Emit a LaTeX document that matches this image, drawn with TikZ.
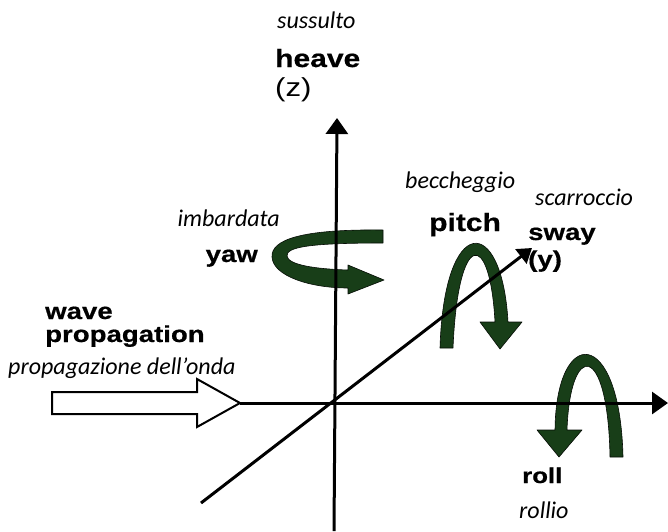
\documentclass[tikz,border=0pt]{standalone}
\usepackage{fontspec}
\usetikzlibrary{arrows.meta}
\newfontfamily\lblfont{Liberation Sans Bold}[FakeStretch=1.2,FakeBold=0.6]
\newfontfamily\lblreg{Liberation Sans}[FakeStretch=1.2]
\newfontfamily\itfont{Carlito Italic}
\definecolor{rotgreen}{RGB}{24,62,24}
\tikzset{
  lbl/.style={inner sep=0pt, anchor=base west, font=\lblfont\fontsize{23}{26}\selectfont},
  biglbl/.style={lbl, font=\lblfont\fontsize{25}{28}\selectfont},
  smalllbl/.style={lbl, font=\lblfont\fontsize{21.5}{24}\selectfont},
  lblr/.style={inner sep=0pt, anchor=base west, font=\lblreg\fontsize{26}{29}\selectfont},
  itlbl/.style={inner sep=0pt, anchor=base west, font=\itfont\fontsize{24}{27}\selectfont},
  axis/.style={line width=3pt, -{Triangle[length=16pt,width=22pt]}},
  rot/.style={fill=rotgreen, draw=black!80!rotgreen, line width=0.6pt, line join=round},
  wavearrow/.style={draw=black, line width=2pt, fill=white, line join=miter}
}
\begin{document}
\begin{tikzpicture}[x=1pt,y=-1pt]
\useasboundingbox (0,0) rectangle (668,531);

% axis end points
\coordinate (O)  at (335,403);
\coordinate (zt) at (337,118);
\coordinate (zb) at (334,531);
\coordinate (xs) at (240,403);
\coordinate (xt) at (668,403);
\coordinate (yb) at (201,503);
\coordinate (yt) at (532,248);

% yaw ribbon (around z)
\path[rot] (383,230) .. controls (300,229) and (271,240) .. (272,257)
  .. controls (273,276) and (310,288) .. (348,288)
  -- (348,294) -- (384,280) -- (348,265) -- (348,270)
  .. controls (316,269) and (288,265) .. (287,256)
  .. controls (286,247) and (310,243) .. (383,243) -- cycle;

% pitch ribbon (around y)
\path[rot] (440,348) .. controls (444,213) and (502,213) .. (508,322)
  -- (522,322) -- (500,349) -- (480,322) -- (495,322)
  .. controls (490,229) and (458,229) .. (453,348) -- cycle;

% roll ribbon (around x)
\path[rot] (610,457) -- (623,457) .. controls (620,325) and (556,325) .. (555,430)
  -- (537,430) -- (559,457) -- (582,430) -- (567,430)
  .. controls (570,341) and (608,341) .. (610,457) -- cycle;

% wave propagation arrow
\path[wavearrow] (52,392) -- (197,392) -- (197,379) -- (xs) -- (197,427)
  -- (197,414) -- (52,414) -- cycle;

% labels
\node[itlbl] (sus) at (277,28) {sussulto};
\node[biglbl] (heave) at (275,67) {heave};
\node[lblr]  (zlab) at (275,96) {(z)};
\node[itlbl, anchor=base east] (imb) at (280,226) {imbardata};
\node[lbl, anchor=base east] (yaw) at (258,262) {yaw};
\node[itlbl] (bec) at (405,188) {beccheggio};
\node[biglbl] (pitch) at (429,231) {pitch};
\node[itlbl] (sca) at (535,205) {scarroccio};
\node[lbl]   (sway) at (528,240) {sway};
\node[lbl]   (ylab) at (528,267) {(y)};
\node[lbl]   (wave) at (45,319) {wave};
\node[lbl]   (prop) at (45,342) {propagation};
\node[itlbl] (propit) at (8,374) {propagazione dell’onda};
\node[smalllbl] (roll) at (522,483) {roll};
\node[itlbl] (rollio) at (519,518) {rollio};

% axes
\draw[axis] (zb) -- (zt);
\draw[axis] (xs) -- (xt);
\draw[axis, -{Triangle[length=14pt,width=18pt]}] (yb) -- (yt);
\end{tikzpicture}
\end{document}
